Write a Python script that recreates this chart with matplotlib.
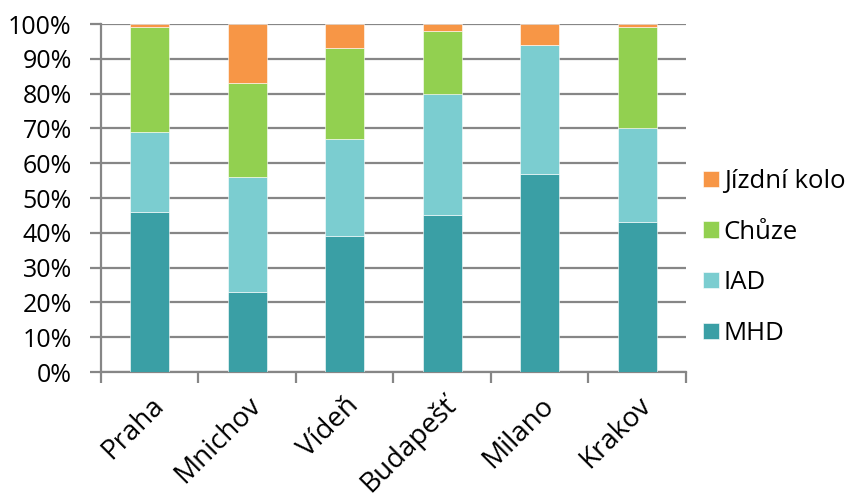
import matplotlib
matplotlib.use("Agg")
import matplotlib.pyplot as plt
import numpy as np

mesta = ["Praha", "Mnichov", "Vídeň", "Budapešť", "Milano", "Krakov"]
mhd = [46, 23, 39, 45, 57, 43]
iad = [23, 33, 28, 35, 37, 27]
chuze = [30, 27, 26, 18, 0, 29]
kolo = [1, 17, 7, 2, 6, 1]

serie = [("MHD", mhd, "#3A9FA5"),
         ("IAD", iad, "#7BCDD0"),
         ("Chůze", chuze, "#92D050"),
         ("Jízdní kolo", kolo, "#F79646")]

plt.rcParams["font.family"] = ["Open Sans", "DejaVu Sans"]
seda = "#868686"

fig = plt.figure(figsize=(8.52, 4.97), dpi=100)
ax = fig.add_axes([0.1185, 0.2515, 0.6865, 0.7002])

x = np.arange(len(mesta))
dole = np.zeros(len(mesta))
handles = []
for nazev, hodnoty, barva in serie:
    b = ax.bar(x, hodnoty, width=0.4, bottom=dole, color=barva,
               edgecolor="white", linewidth=0.4, label=nazev, zorder=3)
    handles.append(b)
    dole += np.array(hodnoty)

ax.set_xlim(-0.5, len(mesta) - 0.5)
ax.set_ylim(0, 100)
ax.set_yticks(range(0, 101, 10))
ax.set_yticklabels([f"{v}%" for v in range(0, 101, 10)], fontsize=18)
ax.yaxis.grid(True, color=seda, linewidth=1.6, zorder=0)

# category labels sit between boundary ticks
ax.set_xticks(np.arange(-0.5, len(mesta)), minor=False)
ax.set_xticklabels([])
ax.set_xticks(x, minor=True)
ax.set_xticklabels(mesta, minor=True, rotation=45, ha="right",
                   rotation_mode="anchor", fontsize=20)
ax.tick_params(axis="x", which="minor", length=0, pad=14)
ax.tick_params(axis="x", which="major", length=8, width=1.6, color=seda)
ax.tick_params(axis="y", length=8, width=1.6, color=seda, pad=13)

for s in ["top", "right"]:
    ax.spines[s].set_visible(False)
for s in ["left", "bottom"]:
    ax.spines[s].set_color(seda)
    ax.spines[s].set_linewidth(1.6)

ax.legend(handles[::-1], [s[0] for s in serie[::-1]], loc="center left",
          bbox_to_anchor=(0.8134, 0.482), bbox_transform=fig.transFigure,
          frameon=False, fontsize=18.5, handlelength=0.6, handleheight=0.6,
          handletextpad=0.2, labelspacing=1.0, borderaxespad=0)

fig.savefig("out.png", dpi=100)
